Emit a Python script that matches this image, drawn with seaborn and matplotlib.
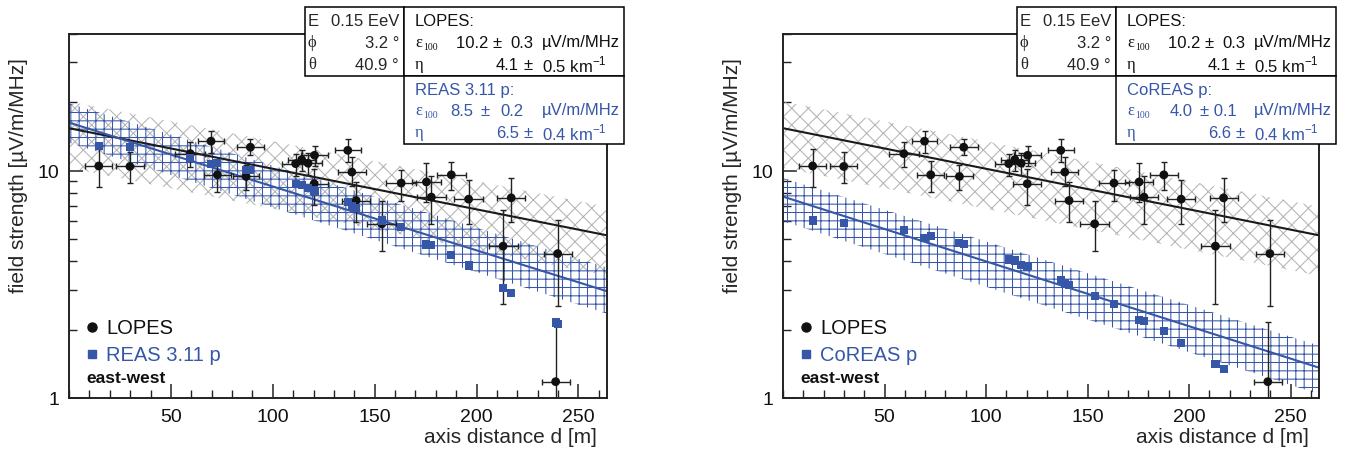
import matplotlib
matplotlib.use("Agg")
import matplotlib.pyplot as plt
import seaborn as sns
from matplotlib.lines import Line2D
from matplotlib.patches import Rectangle
from matplotlib.ticker import FixedLocator, MultipleLocator, LogLocator, NullFormatter, FuncFormatter

# LOPES events (axis distance [m], field strength [uV/m/MHz])
lopes_d = [14.6, 29.9, 59.5, 69.7, 72.8, 86.9, 89.0, 111.2, 114.2, 117.3, 120.5, 120.3, 136.8,
           138.8, 140.9, 153.5, 163.0, 175.4, 177.8, 187.6, 196.1, 213.0, 217.0, 239.8, 238.8]
lopes_e = [10.5, 10.45, 11.9, 13.5, 9.6, 9.44, 12.7, 10.75, 11.2, 10.8, 11.7, 8.77, 12.3,
           9.87, 7.40, 5.84, 8.83, 8.93, 7.66, 9.6, 7.5, 4.66, 7.6, 4.32, 1.18]
lopes_lo = [8.5, 8.8, 10.4, 11.95, 8.05, 8.2, 11.7, 9.5, 10.0, 9.6, 10.5, 7.07, 10.9,
            8.6, 5.94, 4.45, 7.4, 7.3, 5.84, 8.2, 5.84, 2.59, 5.94, 2.55, 0.5]
lopes_hi = [12.5, 12.1, 13.4, 14.9, 11.0, 10.6, 13.8, 11.9, 12.4, 12.0, 12.9, 10.2, 13.8,
            11.5, 8.9, 7.34, 10.1, 10.8, 9.5, 10.9, 9.14, 6.72, 9.3, 6.08, 2.17]
lopes_derr = [6.7, 6.7, 7.4, 6.2, 6.6, 6.5, 6.8, 6.8, 6.8, 6.8, 6.8, 6.8, 6.5,
              6.7, 6.8, 7.2, 7.4, 7.0, 7.0, 7.0, 7.0, 7.1, 6.9, 6.9, 6.9]

# simulations for the same events
reas_e = [12.9, 12.7, 11.4, 10.7, 10.8, 10.1, 10.1, 8.77, 8.62, 8.4, 8.1, 8.19, 7.28,
          7.0, 6.85, 6.04, 5.65, 4.74, 4.7, 4.27, 3.83, 3.04, 2.89, 2.12, 2.15]
coreas_e = [6.04, 5.90, 5.51, 5.05, 5.15, 4.80, 4.78, 4.07, 4.03, 3.85, 3.80, 3.78, 3.31,
            3.21, 3.15, 2.82, 2.60, 2.21, 2.18, 1.98, 1.75, 1.41, 1.34]

# exponential fits and uncertainty bands, read at both ends of the axis
fit_d = [0, 264]
lopes_fit = [15.4, 5.2]
lopes_band_lo = [10.3, 3.45]
lopes_band_hi = [20.2, 6.95]
reas_fit = [16.3, 2.95]
reas_band_lo = [13.3, 2.35]
reas_band_hi = [19.8, 3.75]
coreas_fit = [7.7, 1.36]
coreas_band_lo = [6.0, 1.04]
coreas_band_hi = [9.3, 1.70]

x_ticks = [50, 100, 150, 200, 250]

BLUE = '#3656a8'
GREY = '#b4b4b4'
W, H = 1351, 452

sns.set_theme(style='white')
plt.rcParams['font.family'] = ['Liberation Sans', 'DejaVu Sans']
plt.rcParams['mathtext.fontset'] = 'custom'
plt.rcParams['mathtext.rm'] = 'Liberation Sans'
plt.rcParams['hatch.linewidth'] = 0.75

fig = plt.figure(figsize=(W / 100, H / 100), dpi=100)
SERIF = ['Liberation Serif', 'DejaVu Serif']


def ftext(x, y, s, **kw):
    kw.setdefault('fontsize', 12)
    kw.setdefault('va', 'center')
    kw.setdefault('zorder', 6)
    fig.text(x / W, 1 - y / H, s, **kw)


def box(x0, y0, x1, y1):
    fig.add_artist(Rectangle((x0 / W, 1 - y1 / H), (x1 - x0) / W, (y1 - y0) / H,
                             transform=fig.transFigure, facecolor='white',
                             edgecolor='black', lw=1.1, zorder=5))


def param_box(base, y0, name, eps_parts, eta_parts, color):
    ftext(base + 11, y0, name, color=color)
    ftext(base + 11, y0 + 21, 'ε', family=SERIF, color=color)
    ftext(base + 19, y0 + 26, '100', family=SERIF, fontsize=7, color=color)
    for s, dx in eps_parts:
        ftext(base + dx, y0 + 21, s, color=color)
    ftext(base + 11, y0 + 43, 'η', family=SERIF, color=color)
    for s, dx in eta_parts:
        ftext(base + dx, y0 + 43, s, color=color)


def panel(ax_left, ax_right, sim_d, sim_e, sim_fit, sim_lo, sim_hi, sim_name, sim_eps, sim_eta):
    ax = fig.add_axes([ax_left / W, 1 - 399 / H, (ax_right - ax_left) / W, (399 - 35) / H])
    ax.fill_between(fit_d, lopes_band_lo, lopes_band_hi, facecolor='none', edgecolor=GREY,
                    hatch='xx', linewidth=0, zorder=1)
    ax.fill_between(fit_d, sim_lo, sim_hi, facecolor='none', edgecolor=BLUE,
                    hatch='++', linewidth=0, zorder=1.5)
    sns.lineplot(x=fit_d, y=lopes_fit, color='#1a1a1a', lw=1.5, ax=ax, zorder=2)
    sns.lineplot(x=fit_d, y=sim_fit, color=BLUE, lw=1.5, ax=ax, zorder=2)
    yerr = [[e - l for e, l in zip(lopes_e, lopes_lo)], [h - e for e, h in zip(lopes_e, lopes_hi)]]
    ax.errorbar(lopes_d, lopes_e, yerr=yerr, xerr=lopes_derr, fmt='none', ecolor='#222222',
                elinewidth=1, capsize=2.5, capthick=1, zorder=3)
    sns.scatterplot(x=lopes_d, y=lopes_e, color='#111111', s=40, marker='o',
                    edgecolor='none', ax=ax, zorder=4)
    sns.scatterplot(x=sim_d, y=sim_e, color=BLUE, s=34, marker='s',
                    edgecolor='none', ax=ax, zorder=4.5)

    ax.set_yscale('log')
    ax.set_xlim(0, 264)
    ax.set_ylim(1, 40)
    ax.xaxis.set_major_locator(FixedLocator(x_ticks))
    ax.xaxis.set_minor_locator(MultipleLocator(10))
    ax.yaxis.set_major_locator(LogLocator(base=10))
    ax.yaxis.set_minor_locator(LogLocator(base=10, subs=range(2, 10)))
    ax.yaxis.set_minor_formatter(NullFormatter())
    ax.yaxis.set_major_formatter(FuncFormatter(lambda v, p: f'{v:g}'))
    ax.tick_params(which='both', direction='in', top=False, right=False, bottom=True, left=True,
                   color='#222222', labelsize=14, labelcolor='#111111')
    ax.tick_params(which='major', length=10, width=1.1, pad=7)
    ax.tick_params(which='minor', length=6, width=1.0)
    for sp in ax.spines.values():
        sp.set_visible(True)
        sp.set_color('#222222')
        sp.set_linewidth(1.4)
    ax.set_xlabel('')
    ax.set_ylabel('')

    ftext(ax_left - 50, 176, 'field strength [µV/m/MHz]', rotation=90, ha='center', fontsize=15)
    ftext(ax_right - 10, 438, 'axis distance d [m]', ha='right', fontsize=15)

    # legend
    fig.add_artist(Line2D([(ax_left + 23) / W], [1 - 328 / H], marker='o', color='#111111',
                          markersize=6.5, ls='none', zorder=6))
    ftext(ax_left + 37, 329, 'LOPES', fontsize=14.5, color='#111111')
    fig.add_artist(Line2D([(ax_left + 23) / W], [1 - 355 / H], marker='s', color=BLUE,
                          markersize=6, ls='none', zorder=6))
    ftext(ax_left + 37, 356, sim_name, fontsize=14.5, color=BLUE)
    ftext(ax_left + 17, 379, 'east-west', fontsize=12.5, fontweight='bold', color='#111111')

    # parameter boxes
    base = ax_right - 203
    box(base - 99, 8, base, 77)
    box(base, 8, base + 220, 77)
    box(base, 77, base + 220, 145)
    ftext(base - 96, 22, 'E')
    ftext(base - 5, 22, '0.15 EeV', ha='right')
    ftext(base - 96, 43, 'ϕ', family=SERIF)
    ftext(base - 5, 43, '3.2 °', ha='right')
    ftext(base - 96, 65, 'θ', family=SERIF)
    ftext(base - 5, 65, '40.9 °', ha='right')
    param_box(base, 22, 'LOPES:',
              [('10.2 ±', 52), ('0.3', 106), ('µV/m/MHz', 138)],
              [('4.1', 92), ('±', 120), ('0.5 km$^{-1}$', 138)], '#111111')
    param_box(base, 90, sim_name + ':', sim_eps, sim_eta, BLUE)
    return ax


panel(69, 607, lopes_d, reas_e, reas_fit, reas_band_lo, reas_band_hi, 'REAS 3.11 p',
      [('8.5', 46), ('±', 76), ('0.2', 96), ('µV/m/MHz', 138)],
      [('6.5', 92), ('±', 120), ('0.4 km$^{-1}$', 138)])
panel(783, 1319, lopes_d[:len(coreas_e)], coreas_e, coreas_fit, coreas_band_lo, coreas_band_hi,
      'CoREAS p',
      [('4.0', 54), ('± 0.1', 84), ('µV/m/MHz', 138)],
      [('6.6', 92), ('±', 120), ('0.4 km$^{-1}$', 138)])

fig.savefig('out.png', dpi=100)
